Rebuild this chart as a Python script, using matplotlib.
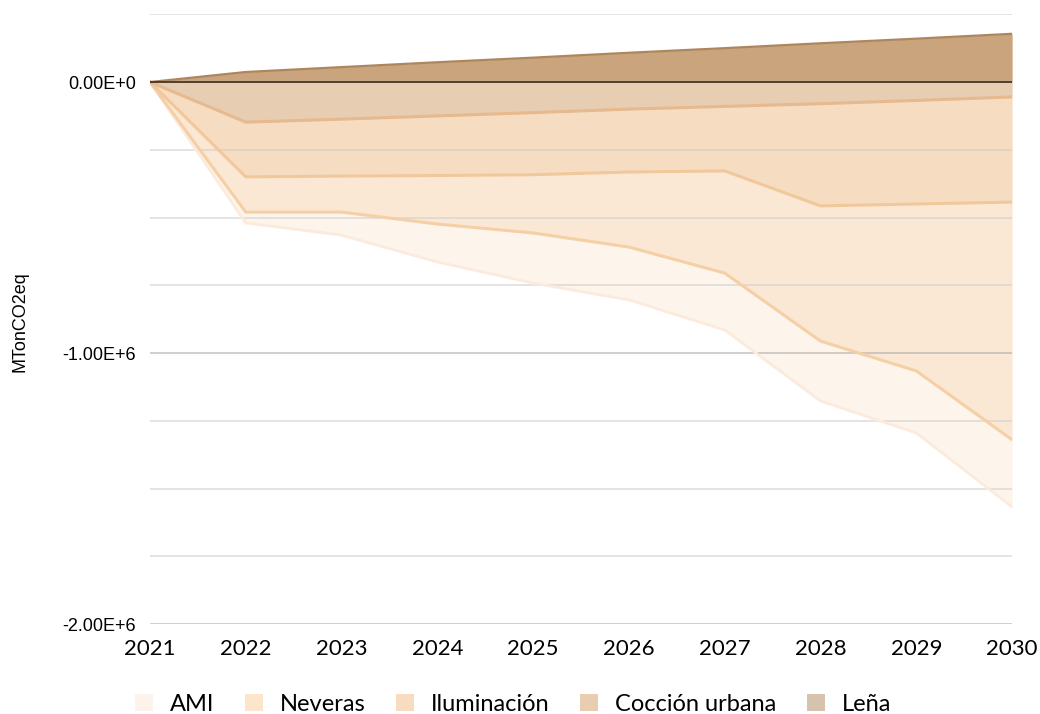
import numpy as np
import matplotlib.pyplot as plt
from matplotlib.patches import Patch
from matplotlib.ticker import MultipleLocator, FuncFormatter

years = [2021, 2022, 2023, 2024, 2025, 2026, 2027, 2028, 2029, 2030]

# individual contributions (tCO2eq), negative ones stacked downward from zero
coccion = [0, -0.148e6, -0.137e6, -0.125e6, -0.113e6, -0.100e6, -0.090e6, -0.080e6, -0.068e6, -0.055e6]
iluminacion = [0, -0.202e6, -0.210e6, -0.220e6, -0.229e6, -0.232e6, -0.238e6, -0.377e6, -0.382e6, -0.388e6]
neveras = [0, -0.130e6, -0.133e6, -0.179e6, -0.215e6, -0.277e6, -0.377e6, -0.499e6, -0.616e6, -0.877e6]
ami = [0, -0.040e6, -0.085e6, -0.140e6, -0.185e6, -0.195e6, -0.210e6, -0.221e6, -0.229e6, -0.248e6]
lena = [0, 0.037e6, 0.055e6, 0.073e6, 0.090e6, 0.108e6, 0.125e6, 0.143e6, 0.160e6, 0.178e6]

labels = ['AMI', 'Neveras', 'Iluminación', 'Cocción urbana', 'Leña']
legend_colors = ['#fdf3ea', '#fde5cc', '#f8dcc0', '#e8cdb0', '#d6c3ad']

fig = plt.figure(figsize=(10.4, 7.14), dpi=100)
ax = fig.add_axes([0.1442, 0.126, 0.829, 0.854])

x = np.array(years)
c1 = np.array(coccion)
c2 = c1 + np.array(iluminacion)
c3 = c2 + np.array(neveras)
c4 = c3 + np.array(ami)
top = np.array(lena)

# bands, from the outermost inwards
ax.fill_between(x, c3, c4, color='#fdf4eb', lw=0, zorder=2)
ax.plot(x, c4, color='#fcebdc', lw=2, zorder=3)
ax.fill_between(x, c2, c3, color='#fbe8d4', lw=0, zorder=2)
ax.plot(x, c3, color='#f5cfa6', lw=2.2, zorder=3)
ax.fill_between(x, c1, c2, color='#f6ddc2', lw=0, zorder=2)
ax.plot(x, c2, color='#f1c89c', lw=2.2, zorder=3)
ax.fill_between(x, 0, c1, color='#e7cdb1', lw=0, zorder=2)
ax.plot(x, c1, color='#e6b98e', lw=2.2, zorder=3)
ax.fill_between(x, 0, top, color='#c9a47c', lw=0, zorder=2)
ax.plot(x, top, color='#ad865e', lw=1.6, zorder=3)
ax.axhline(0, color='#3a3027', lw=1.2, zorder=4)

ax.set_xlim(2021, 2030)
ax.set_ylim(-2.0e6, 0.25e6)
ax.yaxis.set_major_locator(MultipleLocator(1e6))
ax.yaxis.set_minor_locator(MultipleLocator(0.25e6))
ax.yaxis.set_major_formatter(FuncFormatter(lambda v, p: '0.00E+0' if v == 0 else '%.2fE+6' % (v / 1e6)))
ax.grid(axis='y', which='major', color='#a3a3a3', alpha=0.6, lw=1.2, zorder=2.5)
ax.grid(axis='y', which='minor', color='#cbcbcb', alpha=0.6, lw=1.2, zorder=2.5)
ax.set_axisbelow(False)
ax.set_xticks(years)
ax.tick_params(axis='both', which='both', length=0)
ax.tick_params(axis='y', pad=10)
ax.tick_params(axis='x', pad=11)
for t in ax.get_yticklabels():
    t.set_fontfamily('Liberation Sans')
    t.set_fontsize(13)
for t in ax.get_xticklabels():
    t.set_fontfamily('Lato')
    t.set_fontsize(16)
for s in ax.spines.values():
    s.set_visible(False)

fig.text(0.019, 0.55, 'MTonCO2eq', rotation=90, ha='center', va='center',
         fontsize=13, family='Liberation Sans')

handles = [Patch(facecolor=c, edgecolor='none') for c in legend_colors]
fig.legend(handles, labels, loc='center', bbox_to_anchor=(0.4935, 0.014), ncol=5,
           frameon=False, prop={'family': 'Lato', 'size': 17},
           handlelength=0.76, handleheight=0.76, columnspacing=1.3, handletextpad=0.72)

fig.savefig('out.png', dpi=100)
